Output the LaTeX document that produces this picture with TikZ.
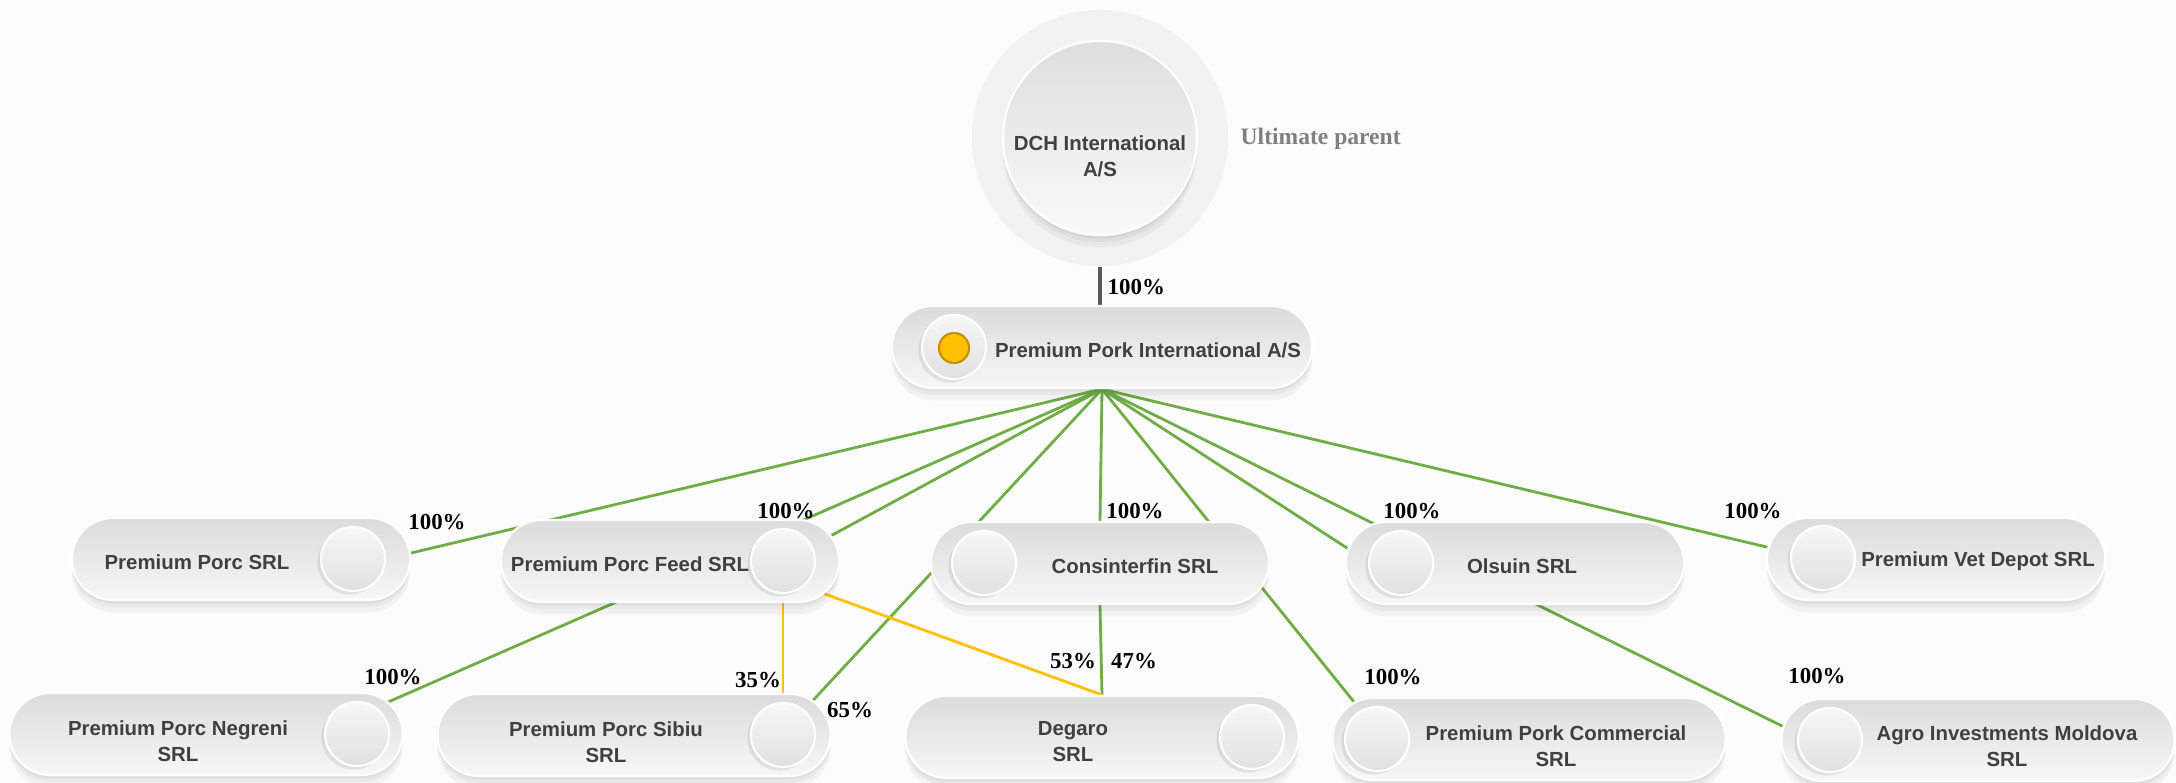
\documentclass[tikz,border=0pt]{standalone}
\usepackage{fontspec}
\setmainfont{Liberation Serif}
\setsansfont{Liberation Sans}
\usetikzlibrary{calc,shapes.misc}
\definecolor{linkgreen}{HTML}{70AD47}
\definecolor{linkgold}{HTML}{FFC000}
\definecolor{dotrim}{HTML}{BF9000}
\definecolor{txtgray}{HTML}{404040}
\definecolor{bargray}{HTML}{595959}
\pgfdeclarelayer{bg}
\pgfdeclarelayer{links}
\pgfsetlayers{bg,links,main}

\begin{document}
\begin{tikzpicture}[x=0.01cm,y=-0.01cm,line cap=round,line join=round,
    softshade/.style={
        preaction={fill=black,opacity=.04,transform canvas={yshift=-1pt}},
        preaction={fill=black,opacity=.04,transform canvas={yshift=-2pt}},
        preaction={fill=black,opacity=.04,transform canvas={yshift=-3.5pt}}},
    pillbox/.style={rounded rectangle,minimum height=0.82cm,inner sep=0pt,softshade,
        draw=white,line width=0.6pt,top color=black!14,bottom color=black!3},
    pillsm/.style={pillbox,minimum width=3.38cm},
    pillwd/.style={pillbox,minimum width=3.93cm},
    knob/.style={circle,minimum size=0.64cm,inner sep=0pt,draw=white,line width=0.6pt,
        preaction={fill=black,opacity=.08,transform canvas={xshift=-1pt,yshift=-1pt}},
        top color=black!3,bottom color=black!12},
    firm/.style={font=\sffamily\bfseries\fontsize{5.8}{7.4}\selectfont,text=txtgray,align=center,inner sep=0pt},
    pct/.style={font=\bfseries\fontsize{6.5}{7}\selectfont,inner sep=0pt},
    ownline/.style={linkgreen,line width=0.8pt},
    jointline/.style={linkgold,line width=0.8pt}]
    \useasboundingbox (0,0) rectangle (2176,783);
    \begin{pgfonlayer}{bg}
        \fill[black!1] (0,0) rectangle (2176,783);
    \end{pgfonlayer}

    % ultimate parent
    \node[circle,minimum size=2.56cm,inner sep=0pt,fill=black!5] (dchring) at (1100,138) {};
    \node[circle,minimum size=1.94cm,inner sep=0pt,draw=white,line width=0.6pt,softshade,
        top color=black!13,bottom color=black!2] (dch) at (1100,138) {};
    \node[firm] (dchtext) at (1100,156) {DCH International\\A/S};
    \node[font=\bfseries\fontsize{6.7}{8}\selectfont,text=black!50,anchor=west,inner sep=0pt] (ultimate) at (1240,139) {Ultimate parent};

    % holding
    \node[pillbox,minimum width=4.2cm] (ppi) at (1102,347) {};
    \node[knob] (ppiknob) at (954,347) {};
    \node[circle,minimum size=0.3cm,inner sep=0pt,fill=linkgold,draw=dotrim,line width=0.6pt] (ppidot) at (954,348) {};
    \node[firm] (ppitext) at (1148,350) {Premium Pork International A/S};

    % first row
    \node[pillsm] (porc) at (241,559) {};
    \node[knob] (porcknob) at (353,559) {};
    \node[firm] (porctext) at (197,562) {Premium Porc SRL};

    \node[pillsm] (feed) at (670,561) {};
    \node[knob] (feedknob) at (783,561) {};
    \node[firm] (feedtext) at (630,564) {Premium Porc Feed SRL};

    \node[pillsm] (consin) at (1100,563) {};
    \node[knob] (consinknob) at (984,563) {};
    \node[firm] (consintext) at (1135,566) {Consinterfin SRL};

    \node[pillsm] (olsuin) at (1515,563) {};
    \node[knob] (olsuinknob) at (1401,563) {};
    \node[firm] (olsuintext) at (1522,566) {Olsuin SRL};

    \node[pillsm] (vetdepot) at (1936,559) {};
    \node[knob] (vetdepotknob) at (1823,558) {};
    \node[firm] (vetdepottext) at (1978,561) {Premium Vet Depot SRL};

    % second row
    \node[pillwd] (negreni) at (206,734) {};
    \node[knob] (negreniknob) at (357,734) {};
    \node[firm] (negrenitext) at (178,741) {Premium Porc Negreni\\SRL};

    \node[pillwd] (sibiu) at (634,735) {};
    \node[knob] (sibiuknob) at (783,735) {};
    \node[firm] (sibiutext) at (606,742) {Premium Porc Sibiu\\SRL};

    \node[pillwd] (degaro) at (1102,737) {};
    \node[knob] (degaroknob) at (1252,737) {};
    \node[firm] (degarotext) at (1073,742) {Degaro\\SRL};

    \node[pillwd] (commercial) at (1529,739) {};
    \node[knob] (commercialknob) at (1377,739) {};
    \node[firm] (commercialtext) at (1556,746) {Premium Pork Commercial\\SRL};

    \node[pillwd] (agro) at (1978,740) {};
    \node[knob] (agroknob) at (1830,740) {};
    \node[firm] (agrotext) at (2007,746) {Agro Investments Moldova\\SRL};

    % links
    \begin{pgfonlayer}{links}
        \draw[bargray,line width=1.4pt,line cap=butt] (dchring.south) -- (dchring.south |- ppi.north);
        \draw[ownline] (ppi.south) -- (porc.2);
        \draw[ownline] (ppi.south) -- (feed.9);
        \draw[ownline] (ppi.south) -- (negreni.10);
        \draw[ownline] (ppi.south) -- (sibiu.11);
        \draw[ownline] (ppi.south) -- (consin.north);
        \draw[ownline] (consin.south) -- (degaro.north);
        \draw[ownline] (ppi.south) -- (commercial.168);
        \draw[ownline] (ppi.south) -- (olsuin.175);
        \draw[ownline] (ppi.south) -- (agro.176);
        \draw[ownline] (ppi.south) -- (vetdepot.176);
        \draw[jointline] (feedknob |- feed.south) -- (sibiuknob |- sibiu.north);
        \draw[jointline] (feed.-12) -- (degaro.north);
    \end{pgfonlayer}

    % shares
    \node[pct,anchor=west] (pdch) at (1107,287) {100\%};
    \node[pct] (pporc) at (437,522) {100\%};
    \node[pct] (pfeed) at (786,511) {100\%};
    \node[pct] (pconsin) at (1135,511) {100\%};
    \node[pct] (polsuin) at (1412,511) {100\%};
    \node[pct] (pvetdepot) at (1753,511) {100\%};
    \node[pct] (pnegreni) at (393,677) {100\%};
    \node[pct] (psibiufeed) at (758,680) {35\%};
    \node[pct] (psibiu) at (850,710) {65\%};
    \node[pct] (pdegarofeed) at (1073,661) {53\%};
    \node[pct] (pdegaro) at (1134,661) {47\%};
    \node[pct] (pcommercial) at (1393,677) {100\%};
    \node[pct] (pagro) at (1817,676) {100\%};
\end{tikzpicture}
\end{document}
